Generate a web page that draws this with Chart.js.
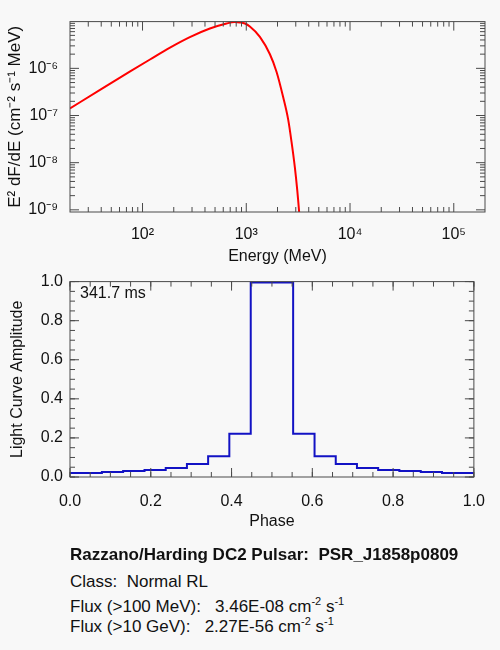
<!DOCTYPE html>
<html>
<head>
<meta charset="utf-8">
<script src="https://cdn.jsdelivr.net/npm/chart.js@4.4.1/dist/chart.umd.min.js"></script>
<style>
  html, body { margin: 0; padding: 0; background: #f8f8f8; }
  #wrap { position: relative; width: 500px; height: 650px; font-family: "Liberation Sans", Arial, sans-serif; color: #111; }
  canvas { position: absolute; left: 0; }
  #specChart { top: 0; }
  #lcChart { top: 265px; }
  .txt { position: absolute; left: 70px; font-size: 17px; line-height: 20px; white-space: pre; }
  .txt sup { font-size: 11px; line-height: 0; vertical-align: 7px; }
</style>
</head>
<body>
<div id="wrap">
  <canvas id="specChart" width="500" height="270"></canvas>
  <canvas id="lcChart" width="500" height="270"></canvas>
  <div class="txt" style="left:80px; top:283px; font-size:16px;">341.7 ms</div>
  <div class="txt" style="top:545px; font-weight:bold;">Razzano/Harding DC2 Pulsar:  PSR_J1858p0809</div>
  <div class="txt" style="top:572px;">Class:  Normal RL</div>
  <div class="txt" style="top:597px;">Flux (&gt;100 MeV):   3.46E-08 cm<sup>-2</sup> s<sup>-1</sup></div>
  <div class="txt" style="top:617px;">Flux (&gt;10 GeV):   2.27E-56 cm<sup>-2</sup> s<sup>-1</sup></div>
</div>
<script>
// Spectrum
const energyMeV = [20, 40, 76, 118, 184, 286, 446, 646, 770, 870, 970, 1083, 1353, 1690, 1960, 2270, 2536, 2731, 2940, 3097, 3236, 3350];
const e2dfde = [1.41e-7, 3.64e-7, 8.6e-7, 1.54e-6, 2.75e-6, 4.59e-6, 6.98e-6, 8.93e-6, 9.6e-6, 9.4e-6, 8.93e-6, 7.7e-6, 4.66e-6, 1.99e-6, 8.4e-7, 2.44e-7, 8.2e-8, 2.76e-8, 7.96e-9, 2.69e-9, 8.8e-10, 3.0e-10];

// Light curve
const phase = [0.000, 0.053, 0.105, 0.158, 0.211, 0.263, 0.316, 0.368, 0.421, 0.474, 0.526, 0.579, 0.632, 0.684, 0.737, 0.789, 0.842, 0.895, 0.947, 1.000];
const amplitude = [0.020, 0.021, 0.026, 0.031, 0.036, 0.046, 0.066, 0.106, 0.221, 0.995, 0.995, 0.221, 0.106, 0.066, 0.046, 0.036, 0.031, 0.026, 0.021, 0.020];

// Tick labels
const energyTicks = [1e2, 1e3, 1e4, 1e5];
const fluxTicks = [1e-9, 1e-8, 1e-7, 1e-6];
const phaseTicks = [0, 0.2, 0.4, 0.6, 0.8, 1.0];
const ampTicks = [0, 0.2, 0.4, 0.6, 0.8, 1.0];

const FONT = '"Liberation Sans", Arial, sans-serif';
const SUP = {'0':'⁰','1':'¹','2':'²','3':'³','4':'⁴','5':'⁵','6':'⁶','7':'⁷','8':'⁸','9':'⁹','-':'⁻'};
const sup = s => String(s).split('').map(c => SUP[c] || c).join('');

function logMinor(lo, hi) {
    const out = [];
    for (let n = Math.floor(Math.log10(lo)); n <= Math.ceil(Math.log10(hi)); n++) {
        for (let k = 2; k <= 9; k++) {
            const v = k * Math.pow(10, n);
            if (v > lo && v < hi) out.push(v);
        }
    }
    return out;
}
function linMinor(lo, hi, step) {
    const out = [];
    for (let i = 0; lo + i * step <= hi + 1e-9; i++) out.push(lo + i * step);
    return out;
}

// IDL style frame with inward ticks on all four sides
const frameTicks = {
    id: 'frameTicks',
    afterDatasetsDraw(chart, args, opts) {
        const {ctx, chartArea: a, scales} = chart;
        ctx.save();
        ctx.strokeStyle = '#4a4a4a';
        ctx.lineWidth = 1;
        ctx.strokeRect(a.left, a.top, a.right - a.left, a.bottom - a.top);
        const drawX = (vals, len) => vals.forEach(v => {
            const p = scales.x.getPixelForValue(v);
            ctx.beginPath();
            ctx.moveTo(p, a.bottom); ctx.lineTo(p, a.bottom - len);
            ctx.moveTo(p, a.top); ctx.lineTo(p, a.top + len);
            ctx.stroke();
        });
        const drawY = (vals, len) => vals.forEach(v => {
            const p = scales.y.getPixelForValue(v);
            ctx.beginPath();
            ctx.moveTo(a.left, p); ctx.lineTo(a.left + len, p);
            ctx.moveTo(a.right, p); ctx.lineTo(a.right - len, p);
            ctx.stroke();
        });
        drawX(opts.xMinor, 5); drawX(opts.xMajor, 9);
        drawY(opts.yMinor, 5); drawY(opts.yMajor, 9);
        ctx.restore();
    }
};

const tickFont = {family: FONT, size: 16};
const titleFont = {family: FONT, size: 16};

new Chart(document.getElementById('specChart'), {
    type: 'line',
    data: {
        datasets: [{
            data: energyMeV.map((e, i) => ({x: e, y: e2dfde[i]})),
            borderColor: '#ff0000',
            borderWidth: 2,
            pointRadius: 0,
            cubicInterpolationMode: 'monotone',
            fill: false,
        }]
    },
    options: {
        responsive: false,
        animation: false,
        layout: { padding: { top: 12, right: 15, left: 0, bottom: 0 } },
        plugins: {
            legend: { display: false },
            tooltip: { enabled: false },
            frameTicks: {
                xMajor: energyTicks, xMinor: logMinor(20, 2e5),
                yMajor: fluxTicks, yMinor: logMinor(9.0e-10, 9.8e-6),
            },
        },
        scales: {
            x: {
                type: 'logarithmic', min: 20, max: 2e5,
                grid: { display: false, drawTicks: false },
                border: { display: false },
                afterBuildTicks: s => { s.ticks = energyTicks.map(v => ({value: v})); },
                afterFit: s => { s.height = 58; },
                ticks: { autoSkip: false, maxRotation: 0, padding: 12.5, color: '#111', font: tickFont,
                    callback: v => '10' + sup(Math.round(Math.log10(v))) },
                title: { display: true, text: 'Energy (MeV)', color: '#111', font: titleFont, padding: { bottom: 3.5 } },
            },
            y: {
                type: 'logarithmic', min: 9.0e-10, max: 9.8e-6,
                grid: { display: false, drawTicks: false },
                border: { display: false },
                afterBuildTicks: s => { s.ticks = fluxTicks.map(v => ({value: v})); },
                afterFit: s => { s.width = 70; },
                ticks: { autoSkip: false, padding: 12, color: '#111', font: tickFont,
                    callback: v => '10' + sup(Math.round(Math.log10(v))) },
                title: { display: true, text: 'E² dF/dE (cm⁻² s⁻¹ MeV)', color: '#111', font: {family: FONT, size: 17}, padding: { top: 5 } },
            },
        },
    },
    plugins: [frameTicks],
});

new Chart(document.getElementById('lcChart'), {
    type: 'line',
    data: {
        datasets: [{
            data: phase.map((p, i) => ({x: p, y: amplitude[i]})),
            borderColor: '#1212c4',
            borderWidth: 2,
            pointRadius: 0,
            stepped: 'middle',
            fill: false,
        }]
    },
    options: {
        responsive: false,
        animation: false,
        layout: { padding: { top: 12, right: 15, left: 0, bottom: 0 } },
        plugins: {
            legend: { display: false },
            tooltip: { enabled: false },
            frameTicks: {
                xMajor: phaseTicks, xMinor: linMinor(0, 1, 0.05),
                yMajor: ampTicks, yMinor: linMinor(0, 1, 0.05),
            },
        },
        scales: {
            x: {
                type: 'linear', min: 0, max: 1,
                grid: { display: false, drawTicks: false },
                border: { display: false },
                afterBuildTicks: s => { s.ticks = phaseTicks.map(v => ({value: v})); },
                afterFit: s => { s.height = 58; },
                ticks: { autoSkip: false, maxRotation: 0, padding: 15, color: '#111', font: tickFont,
                    callback: v => v.toFixed(1) },
                title: { display: true, text: 'Phase', color: '#111', font: titleFont, padding: { bottom: 3.5 } },
            },
            y: {
                type: 'linear', min: 0, max: 1,
                grid: { display: false, drawTicks: false },
                border: { display: false },
                afterBuildTicks: s => { s.ticks = ampTicks.map(v => ({value: v})); },
                afterFit: s => { s.width = 70; },
                ticks: { autoSkip: false, padding: 7, color: '#111', font: tickFont,
                    callback: v => v.toFixed(1) },
                title: { display: true, text: 'Light Curve Amplitude', color: '#111', font: titleFont, padding: { top: 8.4 } },
            },
        },
    },
    plugins: [frameTicks],
});
</script>
</body>
</html>
